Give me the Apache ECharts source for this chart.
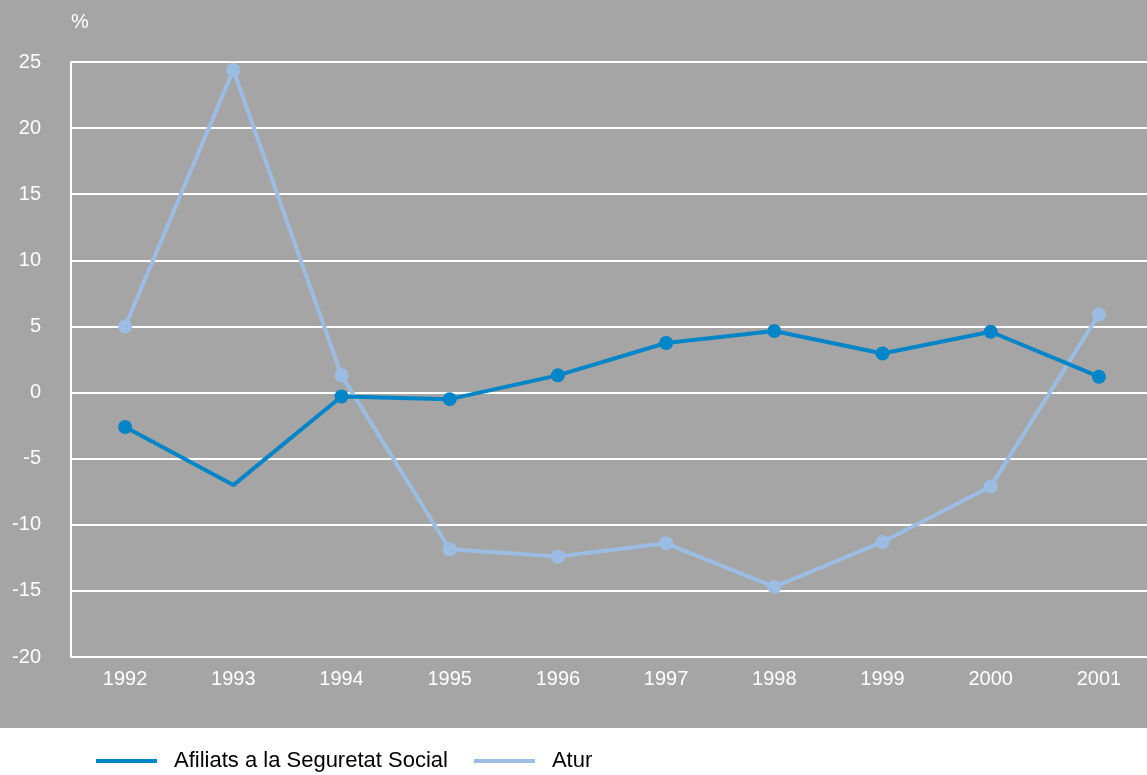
<!DOCTYPE html>
<html><head><meta charset="utf-8">
<script src="https://cdn.jsdelivr.net/npm/echarts@6/dist/echarts.min.js"></script>
<style>html,body{margin:0;padding:0;background:#fff}#c{width:1147px;height:775px}</style>
</head><body><div id="c"></div>
<script>
const years = ['1992','1993','1994','1995','1996','1997','1998','1999','2000','2001'];
const afiliats = [-2.6, -7.0, -0.3, -0.5, 1.3, 3.75, 4.65, 2.95, 4.6, 1.2];
const atur = [5.0, 24.4, 1.3, -11.85, -12.4, -11.4, -14.7, -11.3, -7.1, 5.9];
const afiliatsNoMarker = ['1993'];
const seriesNames = ['Afiliats a la Seguretat Social', 'Atur'];

const FONT = 'Liberation Sans';
const chart = echarts.init(document.getElementById('c'), null, {renderer: 'canvas'});
chart.setOption({
  animation: false,
  backgroundColor: '#ffffff',
  graphic: [{type: 'rect', z: -10, silent: true, shape: {x: 0, y: 0, width: 1147, height: 728}, style: {fill: '#a5a5a5'}}],
  grid: {left: 71, top: 62, width: 1082, height: 595, containLabel: false, outerBoundsMode: 'none'},
  legend: {
    left: 91, top: 745, itemWidth: 61, itemHeight: 4, itemGap: 26,
    icon: 'rect',
    textStyle: {color: '#000', fontSize: 22, fontFamily: FONT, padding: [0, 0, 0, 12]},
    data: seriesNames
  },
  xAxis: {
    type: 'category', data: years, boundaryGap: true,
    axisLine: {show: true, lineStyle: {color: '#fff', width: 2}},
    axisTick: {show: false},
    axisLabel: {color: '#fff', fontSize: 20, fontFamily: FONT, margin: 12},
    splitLine: {show: false}
  },
  yAxis: {
    type: 'value', min: -20, max: 25, interval: 5,
    name: '%', nameLocation: 'end', nameGap: 30,
    nameTextStyle: {color: '#fff', fontSize: 20, fontFamily: FONT, align: 'left', padding: [0, 0, 0, 0]},
    axisLine: {show: true, lineStyle: {color: '#fff', width: 2}},
    axisTick: {show: false},
    axisLabel: {color: '#fff', fontSize: 20, fontFamily: FONT, margin: 30},
    splitLine: {show: true, lineStyle: {color: '#fff', width: 2}}
  },
  series: [
    {
      name: seriesNames[0], type: 'line',
      data: afiliats.map((v, i) => afiliatsNoMarker.includes(years[i]) ? {value: v, symbol: 'none'} : v),
      color: '#0085c8',
      lineStyle: {width: 4, color: '#0085c8'},
      itemStyle: {color: '#0085c8'},
      symbol: 'circle', symbolSize: 14, z: 3
    },
    {
      name: seriesNames[1], type: 'line', data: atur,
      color: '#9cbde3',
      lineStyle: {width: 4, color: '#9cbde3'},
      itemStyle: {color: '#9cbde3'},
      symbol: 'circle', symbolSize: 14, z: 2
    }
  ]
});
</script></body></html>
